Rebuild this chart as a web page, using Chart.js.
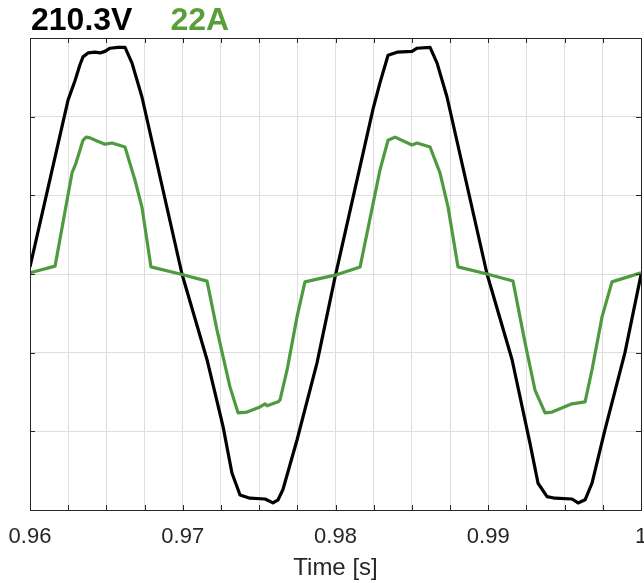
<!DOCTYPE html>
<html>
<head>
<meta charset="utf-8">
<script src="https://cdn.jsdelivr.net/npm/chart.js@4/dist/chart.umd.min.js"></script>
<style>
  body { margin: 0; background: #fff; }
  #wrap { position: relative; width: 644px; height: 583px; }
  #heading {
    position: absolute; left: 31px; top: 3px;
    font: bold 32px "Liberation Sans", Arial, sans-serif; line-height: 32px;
    white-space: nowrap;
  }
  #heading .v { color: #000; }
  #heading .a { color: #5a9e3a; margin-left: 38px; }
</style>
</head>
<body>
<div id="wrap">
  <div id="heading"><span class="v">210.3V</span><span class="a">22A</span></div>
  <canvas id="wave" width="644" height="583"></canvas>
</div>
<script>
// voltage trace, time [s] and volts
const voltTime = [
  0.96000, 0.96249, 0.96295, 0.96327, 0.96347, 0.96380, 0.96426, 0.96458, 0.96491, 0.96524,
  0.96576, 0.96622, 0.96668, 0.96733, 0.96995, 0.97159, 0.97264, 0.97322, 0.97375, 0.97440,
  0.97539, 0.97591, 0.97624, 0.97656, 0.97748, 0.97879, 0.97997,
  0.98246, 0.98291, 0.98344, 0.98403, 0.98501, 0.98534, 0.98619, 0.98665, 0.98730, 0.98992,
  0.99156, 0.99273, 0.99326, 0.99385, 0.99437, 0.99548, 0.99588, 0.99634, 0.99679, 0.99764,
  0.99895, 1.00000
];
const voltValues = [
  9, 221, 246, 266, 276, 281, 282, 281, 283, 287,
  288, 288, 268, 225, 0, -109, -194, -253, -281, -285,
  -286, -291, -287, -274, -211, -113, -4,
  210, 243, 278, 282, 283, 287, 288, 268, 225, 0,
  -109, -215, -266, -283, -285, -286, -291, -287, -266, -198,
  -100, -1
];

// current trace, time [s] and amps
const currTime = [
  0.96000, 0.96164, 0.96275, 0.96301, 0.96347, 0.96367, 0.96393, 0.96439, 0.96491, 0.96537,
  0.96622, 0.96687, 0.96733, 0.96792, 0.96982, 0.97159, 0.97224, 0.97309, 0.97362, 0.97421,
  0.97506, 0.97539, 0.97552, 0.97624, 0.97637, 0.97683, 0.97748, 0.97800, 0.97997,
  0.98161, 0.98291, 0.98344, 0.98390, 0.98501, 0.98534, 0.98619, 0.98684, 0.98737, 0.98802,
  0.98992, 0.99162, 0.99241, 0.99306, 0.99372, 0.99418, 0.99548, 0.99634, 0.99679, 0.99745,
  0.99810, 1.00000
];
const currValues = [
  0.3, 2.0, 25.7, 28.2, 34.0, 34.8, 34.6, 33.8, 33.0, 33.3,
  32.3, 23.9, 17.0, 1.8, 0, -1.8, -14.2, -28.7, -35.3, -35.1,
  -33.8, -33.0, -33.5, -32.5, -32.0, -24.4, -10.9, -2.0, -0.3,
  1.8, 26.4, 34.0, 34.8, 32.8, 33.3, 32.3, 25.7, 17.0, 1.8,
  0, -1.8, -17.5, -29.5, -35.3, -35.1, -33.0, -32.5, -24.4, -10.9,
  -2.0, 0.3
];

const xTicks = [0.96, 0.97, 0.98, 0.99, 1];

function pairs(xs, ys) {
  return xs.map((x, i) => ({ x: x, y: ys[i] }));
}

// box round the plot with short inward tick marks, like the MATLAB axes
const framePlugin = {
  id: "frame",
  afterDraw(chart) {
    const { ctx, chartArea: a, scales } = chart;
    const len = 5;
    ctx.save();
    ctx.strokeStyle = "#262626";
    ctx.lineWidth = 1;
    ctx.beginPath();
    scales.x.ticks.forEach(t => {
      const px = Math.round(scales.x.getPixelForValue(t.value)) + 0.5;
      ctx.moveTo(px, a.top); ctx.lineTo(px, a.top + len);
      ctx.moveTo(px, a.bottom); ctx.lineTo(px, a.bottom - len);
    });
    scales.y.ticks.forEach(t => {
      const py = Math.round(scales.y.getPixelForValue(t.value)) + 0.5;
      ctx.moveTo(a.left, py); ctx.lineTo(a.left + len, py);
      ctx.moveTo(a.right, py); ctx.lineTo(a.right - len, py);
    });
    ctx.stroke();
    ctx.strokeRect(Math.round(a.left) + 0.5, Math.round(a.top) + 0.5,
      Math.round(a.right - a.left), Math.round(a.bottom - a.top));
    ctx.restore();
  }
};

new Chart(document.getElementById("wave"), {
  type: "line",
  data: {
    datasets: [
      {
        label: "22A",
        data: pairs(currTime, currValues),
        yAxisID: "yI",
        borderColor: "#4e9a3f",
        borderWidth: 3.2,
        order: 0
      },
      {
        label: "210.3V",
        data: pairs(voltTime, voltValues),
        yAxisID: "y",
        borderColor: "#000000",
        borderWidth: 3.2,
        order: 1
      }
    ]
  },
  options: {
    responsive: false,
    animation: false,
    devicePixelRatio: 1,
    layout: { padding: { left: 30, right: 3, top: 38, bottom: 0 } },
    elements: { point: { radius: 0 }, line: { tension: 0, borderJoinStyle: "round" } },
    plugins: { legend: { display: false }, tooltip: { enabled: false } },
    scales: {
      x: {
        type: "linear",
        min: 0.96,
        max: 1,
        grid: { color: "#dedede", drawTicks: false },
        border: { display: false },
        ticks: {
          stepSize: 0.0025,
          autoSkip: false,
          maxRotation: 0,
          padding: 14,
          color: "#262626",
          font: { family: "'Liberation Sans', Arial, sans-serif", size: 22 },
          callback: function (v) {
            const hit = xTicks.find(t => Math.abs(t - v) < 1e-7);
            return hit === undefined ? "" : String(hit);
          }
        },
        title: {
          display: true,
          text: "Time [s]",
          color: "#262626",
          padding: { top: 0, bottom: 0 },
          font: { family: "'Liberation Sans', Arial, sans-serif", size: 24 }
        },
        afterFit: function (scale) {
          scale.height = 73;
          scale.paddingLeft = 0;
          scale.paddingRight = 0;
        }
      },
      y: {
        min: -300,
        max: 300,
        grid: { color: "#dedede", drawTicks: false },
        border: { display: false },
        ticks: { stepSize: 100, display: false }
      },
      yI: {
        min: -60,
        max: 60,
        display: false
      }
    }
  },
  plugins: [framePlugin]
});
</script>
</body>
</html>
